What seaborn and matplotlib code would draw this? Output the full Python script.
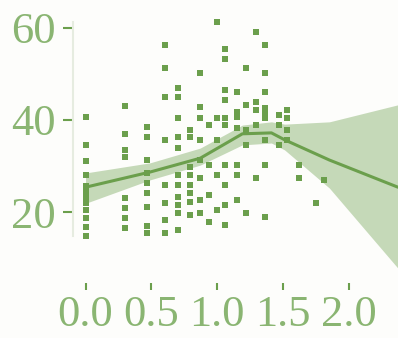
import numpy as np
import pandas as pd
import matplotlib.pyplot as plt
import seaborn as sns

# scatter data
pt_x = [0.0] * 12 + [0.30] * 8 + [0.47] * 9 + [0.60] * 8 + [0.70] * 11 + [0.79] * 8 \
    + [0.87] * 8 + [0.94] * 4 + [1.00] * 5 + [1.06] * 10 + [1.15] * 7 + [1.22] * 5 \
    + [1.29] * 5 + [1.36] * 9 + [1.47] * 3 + [1.53] * 4 + [1.62] * 2 + [1.75, 1.81]
pt_y = [40.7, 34.6, 31.1, 28.0, 25.7, 24.3, 23.3, 21.9, 20.4, 18.7, 16.7, 14.8,
        43.0, 37.0, 33.5, 32.0, 23.0, 20.9, 18.7, 16.5,
        38.5, 36.3, 31.3, 28.5, 26.3, 24.1, 21.1, 17.0, 15.4,
        56.3, 51.3, 45.0, 35.7, 25.9, 22.0, 18.3, 15.4,
        47.0, 45.0, 40.4, 36.3, 33.9, 28.0, 25.9, 23.3, 21.5, 19.8, 16.1,
        37.8, 36.3, 29.8, 28.0, 25.9, 24.1, 22.2, 19.3,
        50.2, 42.8, 40.4, 35.7, 31.3, 27.4, 22.6, 19.8,
        38.9, 30.2, 23.7, 17.8,
        61.3, 40.4, 35.7, 28.0, 20.4,
        55.4, 53.3, 46.5, 44.3, 40.4, 38.9, 30.2, 25.9, 21.5, 17.2,
        46.1, 41.7, 40.7, 38.3, 30.2, 28.0, 22.6,
        51.3, 43.3, 37.8, 34.6, 19.8,
        59.1, 43.9, 42.2, 38.9, 27.4,
        56.3, 50.2, 46.1, 42.6, 41.7, 40.4, 35.7, 30.2, 18.9,
        41.1, 38.9, 34.6,
        42.2, 40.4, 37.8, 35.7,
        30.2, 27.4,
        22.0, 27.0]

# fitted line and its band
fit_x = [0.0, 0.0, 0.49, 0.87, 1.19, 1.41, 1.51, 1.85, 2.37]
fit_y = [23.3, 25.4, 28.7, 31.7, 37.0, 37.2, 35.7, 31.3, 25.4]
band_lo = [21.9, 21.9, 27.0, 30.2, 34.6, 35.0, 33.5, 25.2, 7.8]
band_hi = [28.5, 28.5, 30.7, 33.9, 38.9, 39.6, 39.1, 39.6, 43.3]

xticks = [0.0, 0.5, 1.0, 1.5, 2.0]
yticks = [20, 40, 60]

green = "#6b9f4c"
text_green = "#8ab572"
bg = "#fdfdfb"

sns.set_style("ticks")
plt.rcParams["font.family"] = ["Liberation Serif", "DejaVu Serif"]

pts = pd.DataFrame({"x": pt_x, "y": pt_y})
fit = pd.DataFrame({"x": fit_x, "y": fit_y})

fig = plt.figure(figsize=(3.98, 3.38), dpi=100, facecolor=bg)
ax = fig.add_axes([73 / 398, 55 / 338, 325 / 398, 268 / 338])
ax.set_facecolor(bg)

ax.fill_between(fit_x, band_lo, band_hi, color=green, alpha=0.38, linewidth=0)
sns.lineplot(data=fit, x="x", y="y", estimator=None, sort=False, color=green,
             linewidth=2.2, ax=ax)
sns.scatterplot(data=pts, x="x", y="y", color=green, s=24, marker="s",
                linewidth=0, ax=ax)

ax.set_xlim(-0.095, 2.37)
ax.set_ylim(4.6, 62.8)
ax.set_xticks(xticks)
ax.set_xticklabels([f"{t:.1f}" for t in xticks])
ax.set_yticks(yticks)
ax.set_xlabel("")
ax.set_ylabel("")

sns.despine(ax=ax)
ax.spines["bottom"].set_visible(False)
ax.spines["left"].set_color("#e6ece0")
ax.spines["left"].set_linewidth(1.5)
ax.spines["left"].set_bounds(min(pt_y), max(pt_y))

ax.tick_params(axis="y", colors=green, labelcolor=text_green, length=7.5,
               width=1.5, pad=5, labelsize=32)
ax.tick_params(axis="x", colors=green, labelcolor=text_green, length=5,
               width=1.5, pad=4, labelsize=32)

plt.savefig("out.png", dpi=100, facecolor=bg)
